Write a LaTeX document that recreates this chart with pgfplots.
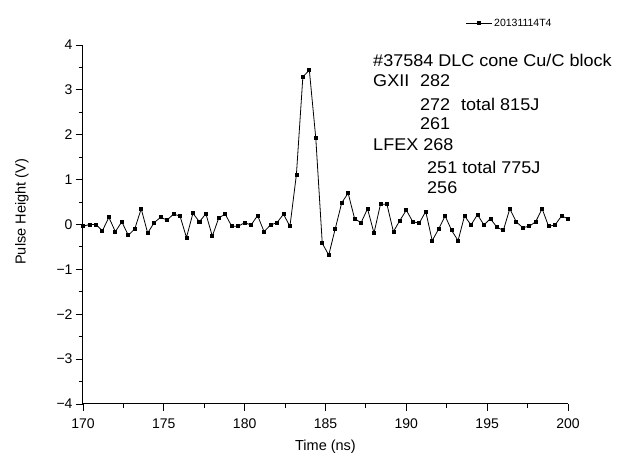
\documentclass[border=0pt]{standalone}
\usepackage{fontspec}
\setmainfont{Liberation Sans}
\newfontfamily\annfont[FakeStretch=1.06]{Liberation Sans}
\usepackage{pgfplots}
\pgfplotsset{compat=1.18}

\pgfplotstableread{
t v
170.0 -0.04
170.4 0.00
170.8 0.00
171.2 -0.14
171.6 0.16
172.0 -0.16
172.4 0.06
172.8 -0.24
173.2 -0.10
173.6 0.35
174.0 -0.19
174.4 0.04
174.8 0.16
175.2 0.10
175.6 0.23
176.0 0.19
176.4 -0.29
176.8 0.25
177.2 0.06
177.6 0.24
178.0 -0.26
178.4 0.15
178.8 0.23
179.2 -0.04
179.6 -0.04
180.0 0.04
180.4 -0.01
180.8 0.20
181.2 -0.16
181.6 -0.01
182.0 0.04
182.4 0.23
182.8 -0.04
183.2 1.11
183.6 3.29
184.0 3.44
184.4 1.92
184.8 -0.42
185.2 -0.68
185.6 -0.10
186.0 0.48
186.4 0.70
186.8 0.13
187.2 0.04
187.6 0.35
188.0 -0.19
188.4 0.45
188.8 0.45
189.2 -0.16
189.6 0.09
190.0 0.32
190.4 0.06
190.8 0.03
191.2 0.29
191.6 -0.36
192.0 -0.10
192.4 0.19
192.8 -0.13
193.2 -0.36
193.6 0.19
194.0 -0.01
194.4 0.22
194.8 -0.01
195.2 0.13
195.6 -0.06
196.0 -0.13
196.4 0.35
196.8 0.06
197.2 -0.07
197.6 -0.04
198.0 0.06
198.4 0.35
198.8 -0.04
199.2 -0.01
199.6 0.19
200.0 0.13
}\pulse

\begin{document}
\begin{tikzpicture}
\begin{axis}[
  scale only axis, width=485pt, height=359pt,
  xmin=170, xmax=200, ymin=-4, ymax=4,
  axis x line=bottom, axis y line=left,
  axis line style={-, line width=1pt},
  xtick={170,175,...,200}, ytick={-4,-3,...,4},
  yticklabels={−4,−3,−2,−1,0,1,2,3,4},
  minor x tick num=1, minor y tick num=1,
  tick align=outside,
  major tick length=7pt, minor tick length=4pt,
  tick style={black, line width=0.9pt},
  ticklabel style={font=\fontsize{14}{15}\selectfont},
  /pgf/number format/assume math mode=true,
  xticklabel style={yshift=-4pt},
  xlabel={Time (ns)}, ylabel={Pulse Height (V)},
  label style={font=\fontsize{14.5}{16}\selectfont},
  xlabel style={at={(axis description cs:0.5,-0.12)}, anchor=center},
  ylabel style={at={(axis description cs:-0.1258,0.535)}, anchor=center},
  clip=false,
  legend style={draw=none, fill=none, at={(rel axis cs:0.788,1.061)}, anchor=west,
    font=\fontsize{10.5}{11}\selectfont, inner sep=0pt},
  legend image code/.code={\draw[mark repeat=2,mark phase=2,#1] plot coordinates {(0pt,0pt) (13pt,0pt) (26pt,0pt)};},
]
\addplot[black, line width=0.8pt, mark=square*, mark size=1.5pt] table[x=t,y=v] {\pulse};
\addlegendentry{20131114T4}
\begin{scope}[every node/.style={anchor=base west, inner sep=0pt, font=\annfont\fontsize{17}{18}\selectfont}]
\node at (axis cs:187.94,3.516) {\#37584 DLC cone Cu/C block};
\node at (axis cs:187.94,3.086) {GXII};
\node at (axis cs:190.84,3.086) {282};
\node at (axis cs:190.84,2.536) {272};
\node at (axis cs:193.38,2.536) {total 815J};
\node at (axis cs:190.84,2.121) {261};
\node at (axis cs:187.94,1.638) {LFEX 268};
\node at (axis cs:191.28,1.141) {251 total 775J};
\node at (axis cs:191.28,0.695) {256};
\end{scope}
\end{axis}
\path ([xshift=-83pt,yshift=-53pt]current axis.south west) rectangle ([xshift=50pt,yshift=45pt]current axis.north east);
\end{tikzpicture}
\end{document}
